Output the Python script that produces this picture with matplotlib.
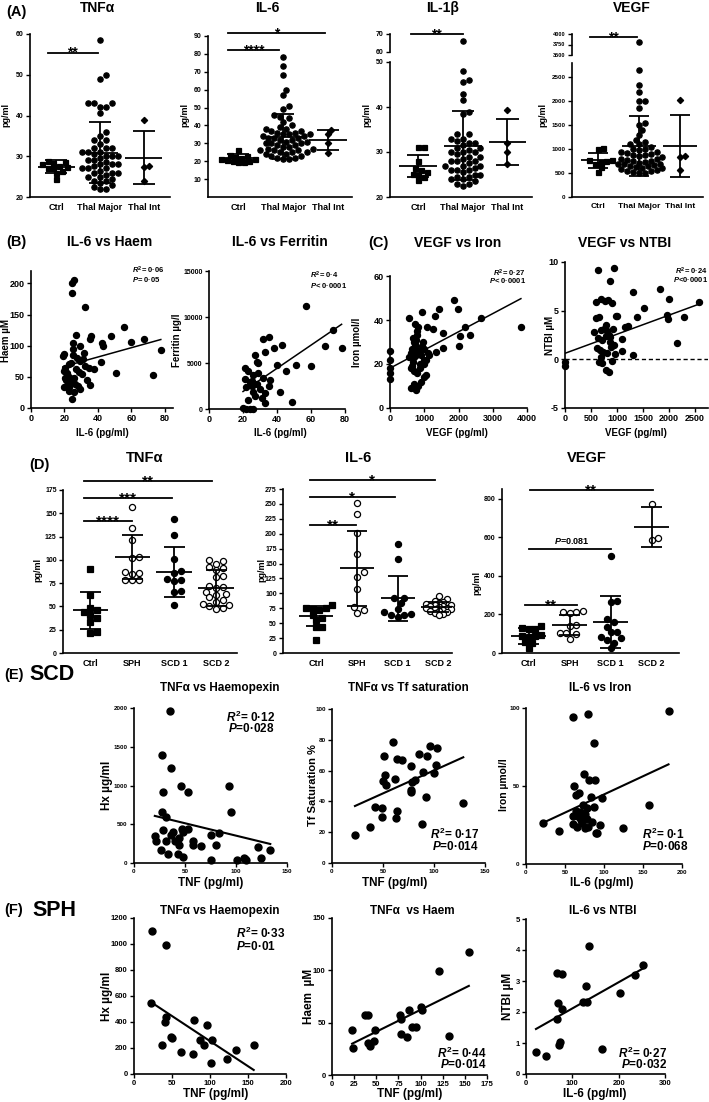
import numpy as np
import matplotlib
matplotlib.use('Agg')
import matplotlib.pyplot as plt

plt.rcParams['font.family'] = ['Liberation Sans', 'DejaVu Sans']
plt.rcParams['font.weight'] = 'bold'
plt.rcParams['axes.unicode_minus'] = False
plt.rcParams['mathtext.fontset'] = 'custom'
plt.rcParams['mathtext.rm'] = 'Liberation Sans:bold'
plt.rcParams['mathtext.it'] = 'Liberation Sans:italic:bold'
plt.rcParams['mathtext.bf'] = 'Liberation Sans:bold'

# ---------------- (A) thalassaemia groups, pg/ml ----------------
GROUPS_A = ['Ctrl', 'Thal Major', 'Thal Int']
TNF_CTRL = [28.8, 28.6, 28.3, 28.0, 27.7, 27.4, 27.2, 27.0, 26.5, 25.8, 24.4]
TNF_MAJOR = [58.5, 50, 49, 43, 43, 43, 42, 42, 40.5, 36, 35, 34, 34, 33, 32, 32, 32, 31, 31, 31,
             30.5, 30, 30, 30, 29.5, 29, 29, 28.5, 28, 28, 28, 27.5, 27, 27, 27, 26.5, 26, 26, 26,
             25.5, 25, 25, 24.5, 24, 24, 23.5, 23, 22.5, 22, 22]
TNF_INT = [39, 27.6, 27.4, 24]
TNF_MEAN = [27.4, 30.9, 29.6]
TNF_SD = [1.6, 7.5, 6.5]

IL6_CTRL = [26, 23.5, 23, 22.5, 22, 21.5, 21, 20.5, 20, 20, 19.5, 19.5]
IL6_MAJOR = [78, 73, 68, 60, 57, 51, 49, 46, 45, 44, 42, 40, 39, 38, 38, 37, 37, 36, 36, 35, 35,
             35, 34, 34, 33, 33, 33, 32, 32, 31, 31, 30, 30, 30, 29, 29, 28, 28, 27, 27, 26, 26,
             26, 25, 25, 25, 24, 24, 23, 23, 22, 22, 21, 21]
IL6_INT = [37.5, 35, 30, 24.5]
IL6_MEAN = [21.6, 33.7, 31.7]
IL6_SD = [2.2, 12.5, 5.5]

IL1B_CTRL = [31.2, 31.2, 28, 26.5, 26, 25.5, 25.2, 25, 24.5, 23.8]
IL1B_MAJOR = [66, 48, 46, 45.5, 43, 41.5, 39, 38.5, 34, 34, 33, 33, 32.5, 32, 32, 31.5, 31, 31,
              30.5, 30, 30, 30, 29.5, 29, 29, 28.5, 28, 28, 28, 27.5, 27, 27, 27, 26.5, 26, 26,
              26, 25.5, 25, 25, 24.5, 24.5, 24, 24, 23.5, 23, 23, 22.5]
IL1B_INT = [39.4, 32.1, 29.9, 27.4]
IL1B_MEAN = [26.9, 31.4, 32.2]
IL1B_SD = [2.4, 7.7, 5.1]

VEGF_CTRL = [1030, 1000, 780, 770, 760, 740, 700, 620, 520]
VEGF_MAJOR = [3800, 2650, 2350, 2200, 2000, 2000, 1850, 1550, 1500, 1400, 1300, 1200, 1150, 1100,
              1100, 1050, 1000, 1000, 980, 950, 950, 920, 900, 880, 870, 850, 830, 800, 800, 780,
              760, 750, 740, 720, 700, 700, 680, 660, 650, 640, 620, 600, 600, 580, 560, 550, 540,
              520, 500, 500]
VEGF_INT = [2030, 850, 830, 570]
VEGF_MEAN = [770, 1069, 1065]
VEGF_SD = [155, 620, 645]

# ---------------- (B) IL-6 vs Haem / Ferritin ----------------
HAEM_IL6 = [24.7, 25.5, 24.7, 32.6, 26.7, 25.3, 25.3, 29.3, 31.6, 35.6, 36.0, 19.8, 19.2, 47.8,
            42.6, 43.0, 55.6, 59.6, 67.8, 77.7, 72.8, 51.0, 41.9, 37.6, 32.6, 34.6, 29.5, 20.5,
            19.8, 21.7, 22.5, 24.0, 27.0, 28.5, 23.0, 26.0, 30.5, 33.5, 21.0, 22.0, 24.5, 26.5,
            28.0, 19.8, 24.7, 26.0, 35.6, 29.5, 23.0, 21.5, 27.5, 31.0, 25.0, 22.5, 20.5]
HAEM = [200, 205, 185, 162, 118, 105, 94, 99, 89, 110, 116, 86, 83, 116, 104, 99, 130, 106, 111,
        93, 53, 56, 74, 63, 68, 65, 76, 65, 60, 57, 70, 72, 62, 58, 50, 48, 55, 45, 45, 40, 42,
        38, 35, 34, 15, 26, 37, 30, 28, 52, 80, 78, 85, 33, 48]
HAEM_FIT = (0.746, 52.0)

FERR_IL6 = [57, 73, 68, 78, 60, 51, 45, 43, 38, 40, 33, 32, 35, 27, 29, 28, 21, 23, 26, 32, 36,
            22, 26, 33, 42, 49, 33, 22, 24, 26, 24, 28, 30, 25, 21, 27, 31, 23, 29, 35, 20, 25]
FERRITIN = [11200, 8600, 6800, 6600, 4700, 4800, 4150, 7000, 6600, 4800, 6200, 7600, 7800, 5900,
            5000, 5100, 4450, 4100, 3700, 3350, 3100, 2400, 1900, 1700, 1900, 800, 700, 0, 0, 0,
            2900, 2700, 2200, 2500, 3300, 1400, 1200, 1000, 3900, 2500, 100, 3000]
FERR_FIT = (126.0, -620.0)

# ---------------- (C) VEGF vs Iron / NTBI ----------------
IRON_VEGF = [3822, 1871, 1998, 1442, 1316, 2651, 2193, 2339, 2047, 2018, 1559, 1559, 1345, 1248,
             1092, 926, 565, 700, 740, 780, 820, 600, 650, 720, 760, 800, 850, 900, 950, 1000,
             1050, 1100, 680, 710, 760, 830, 870, 920, 980, 1150, 600, 640, 700, 780, 880, 1000,
             1060, 0, 0, 0, 0, 0, 620, 700, 760, 820, 900, 990, 560, 660, 740]
IRON = [36.8, 48.9, 44.8, 45.1, 41.7, 41.1, 36.8, 33.1, 32.8, 28.3, 34.1, 27.1, 25.6, 35.7, 36.8,
        43.6, 41.1, 30, 28, 33, 37, 25, 27, 29, 31, 35, 26, 24, 30, 27, 22, 25, 21, 23, 24, 26,
        20, 28, 22, 24, 18, 19, 17, 16, 18, 20, 15, 26, 22, 18, 16, 13, 9, 11, 8, 10, 12, 14,
        23, 32, 38]
IRON_FIT = (0.00827, 18.1)

NTBI_VEGF = [641, 949, 865, 600, 700, 760, 820, 900, 980, 1301, 1827, 2006, 1519, 1391, 1968,
             1987, 2294, 2583, 2147, 1301, 1090, 1205, 1000, 600, 650, 700, 760, 800, 850, 920,
             560, 640, 720, 780, 860, 940, 620, 680, 740, 800, 880, 960, 660, 720, 780, 840, 900,
             700, 780, 860, 0, 0, 1100, 1150]
NTBI = [9.2, 9.4, 8.0, 5.9, 6.2, 6.0, 6.1, 5.8, 4.5, 6.9, 7.2, 6.2, 5.3, 4.4, 4.6, 4.1, 4.4, 5.9,
        1.7, 0.4, 0.9, 3.4, 4.5, 4.2, 4.3, 3.0, 3.2, 2.9, 2.5, 3.1, 2.8, 2.2, 2.0, 2.4, 1.8, 1.5,
        1.2, 1.0, 0.8, 0.6, 1.3, 0.5, -0.3, -0.4, -1.1, -1.3, -0.2, 0.2, 3.5, 2.3, -0.3, -0.7,
        2.1, 3.3]
NTBI_FIT = (0.00196, 0.62)

# ---------------- (D) SPH / SCD groups ----------------
GROUPS_D = ['Ctrl', 'SPH', 'SCD 1', 'SCD 2']
D_TNF_CTRL = [90.4, 62.6, 48.3, 46, 44, 41.2, 38, 33.3, 23, 22]
D_TNF_SPH = [156.5, 134, 121.5, 103, 102, 87, 86, 85, 78, 78, 78]
D_TNF_SCD1 = [144, 127, 101, 88, 86, 79, 78, 77, 67, 66, 52]
D_TNF_SCD2 = [100, 99, 96, 92, 91, 89, 83, 82, 72, 71, 70, 66, 63, 62, 60, 57, 55, 53, 51, 50,
              48, 47]
D_TNF_MEAN = [45.8, 103, 86.8, 69.7]
D_TNF_SD = [20, 24, 26.5, 19]

D_IL6_CTRL = [80, 76, 75, 74, 72, 64, 58, 55, 44, 44, 22]
D_IL6_SPH = [251, 233, 202, 166, 136, 128, 108, 77, 72, 67]
D_IL6_SCD1 = [182, 157, 93, 92, 84, 74, 68, 65, 64, 63, 61]
D_IL6_SCD2 = [96, 90, 88, 86, 84, 82, 81, 80, 79, 78, 77, 76, 75, 74, 73, 72, 71, 70, 69, 67,
              65, 63]
D_IL6_MEAN = [62.3, 142, 91.5, 77.5]
D_IL6_SD = [17, 63, 38, 8]

D_VEGF_CTRL = [138, 128, 125, 122, 95, 90, 88, 85, 55, 52, 26]
D_VEGF_SPH = [220, 215, 212, 208, 145, 140, 105, 103, 100, 75]
D_VEGF_SCD1 = [503, 268, 265, 175, 160, 135, 110, 108, 83, 78, 66, 54, 26]
D_VEGF_SCD2 = [770, 598, 585]
D_VEGF_MEAN = [88, 147, 160, 652]
D_VEGF_SD = [40, 52, 133, 105]

# ---------------- (E) SCD correlations ----------------
E_HX_TNF = [35.2, 27, 35.8, 45.7, 53.1, 28, 93.5, 94.9, 27, 30.9, 28, 20.4, 21.4, 26, 32.9, 30.9,
            38.4, 44.3, 44.3, 46.7, 47.6, 53.1, 43.3, 48.2, 57.5, 57.5, 65.6, 75.2, 75.5, 83.7,
            80.4, 101.4, 108, 110, 109, 121.5, 124.4, 133.6, 36, 40]
E_HX = [1962, 1392, 1221, 994, 913, 913, 998, 664, 664, 591, 420, 343, 278, 171, 116, 283, 406,
        321, 230, 437, 406, 437, 120, 77, 278, 230, 213, 364, 42, 386, 235, 42, 60, 35, 50, 201,
        64, 162, 360, 290]
E_HX_FIT = (-3.2, 673.0)

E_TF_TNF = [22.5, 37.3, 42.3, 48.9, 49.5, 63.8, 62.8, 88.5, 59.8, 51.2, 63.8, 68.7, 85.1, 92.8,
            95.7, 102.7, 101.7, 100, 77.6, 89.5, 52.2, 49.9, 53.2, 61.4, 78.6, 80.9, 77.9, 77.6,
            92.1, 128.7]
E_TF = [18.3, 23.2, 36.5, 35.5, 29.7, 33.7, 29.4, 25.4, 78.5, 69.2, 67.7, 67.1, 71, 69.2, 75.7,
        74.8, 63.4, 58.7, 63, 59.1, 57.4, 53.3, 50.5, 54.8, 52.6, 54.2, 47.7, 46.2, 42.6, 39.1]
E_TF_FIT = (0.298, 30.3)

E_FE_IL6 = [60, 80, 182.7, 87.3, 74.5, 80.5, 88.6, 61.6, 68.4, 64.2, 83, 97.2, 73.6, 78.7, 87.7,
            69.3, 64.2, 60, 68, 76, 22.2, 42.7, 60, 66, 70, 72, 75, 80, 85, 90, 157.5, 124.1,
            90.8, 78, 95]
E_FE = [94.2, 96.3, 97.8, 77.8, 58, 53.7, 53.7, 49.9, 45.8, 44.1, 43, 42, 37.7, 35.6, 36.6, 33.4,
        34.1, 31, 30, 32, 26.4, 21.3, 25.5, 24, 28, 26, 23, 24, 27, 20, 37.7, 22.8, 20, 29, 25]
E_FE_FIT = (0.233, 21.3)

# ---------------- (F) SPH correlations ----------------
F_HX_TNF = [23.7, 41.7, 22.9, 41.7, 40.4, 36.8, 48.3, 49.5, 62.4, 78.6, 96.1, 86.4, 91.7, 77.6,
            102.2, 101.8, 122.4, 134.7, 157.5]
F_HX = [1097, 995, 546, 438, 397, 225, 282, 280, 166, 412, 379, 264, 225, 156, 258, 85, 115, 187,
        225]
F_HX_FIT = (-3.86, 639.0)

F_HAEM_TNF = [22.7, 23.9, 154.5, 120.5, 37.2, 40.9, 76.9, 77.7, 86.4, 100.8, 101.6, 48.5, 40.9,
              42.8, 47.4, 77.7, 85.2, 90.2, 94.8, 132.6]
F_HAEM = [43, 25.6, 117.6, 99, 56.9, 56.9, 57.5, 53.4, 62.3, 64.9, 62.3, 43.1, 31, 27.8, 32.6,
          39.3, 36.1, 45.7, 46.3, 37.4]
F_HAEM_FIT = (0.419, 20.4)

F_NTBI_IL6 = [21.5, 43, 67.3, 76.8, 136.1, 129, 69.5, 76.8, 66, 71.6, 73.1, 123.2, 131.8, 165,
              203.7, 234.4, 252.3]
F_NTBI = [0.70, 0.57, 3.26, 3.23, 4.12, 2.83, 2.29, 2.10, 1.77, 0.95, 1.02, 2.31, 2.31, 0.81,
          2.61, 3.18, 3.53]
F_NTBI_FIT = (0.00845, 1.27)


W, H = 709, 1102
fig = plt.figure(figsize=(W / 100, H / 100), dpi=100)


def box(l, t, r, b):
    # axes from pixel edges (origin top-left)
    return fig.add_axes([l / W, 1 - b / H, (r - l) / W, (b - t) / H])


def put(x, y, s, size, **kw):
    kw.setdefault('ha', 'center')
    kw.setdefault('va', 'center')
    fig.text(x / W, 1 - y / H, s, fontsize=size, **kw)


def frame(ax, size):
    ax.spines[['top', 'right']].set_visible(False)
    ax.spines[['left', 'bottom']].set_linewidth(1.2)
    ax.tick_params(width=1.0, length=3, labelsize=size, pad=1.5)
    ax.patch.set_visible(False)


def spread(ax, pos, vals, ms, tight=1.0):
    # simple beeswarm in pixel space so the dots do not overlap (much)
    tr = ax.transData
    unit = tr.transform((1, 0))[0] - tr.transform((0, 0))[0]
    d = (ms * 100 / 72 + 0.6) * tight
    ys = [tr.transform((0, v))[1] for v in vals]
    steps = [0.0]
    for k in range(1, 60):
        steps += [k * d / 2, -k * d / 2]
    done = []
    xs = [0.0] * len(vals)
    for i in np.argsort(ys, kind='stable'):
        for off in steps:
            if all((off - px) ** 2 + (ys[i] - py) ** 2 >= 0.85 * d * d for px, py in done):
                break
        done.append((off, ys[i]))
        xs[i] = pos + off / unit
    return xs


def dots(axs, pos, vals, marker, ms, face='k', tight=1.0):
    for ax in axs:
        lo, hi = ax.get_ylim()
        sub = [v for v in vals if lo <= v <= hi]
        if sub:
            ax.plot(spread(ax, pos, sub, ms, tight), sub, ls='none', marker=marker, ms=ms,
                    mfc=face, mec='k', mew=0.9, clip_on=False, zorder=3)


def mean_sd(ax, pos, m, s, half=0.42, cap=0.25):
    kw = dict(color='k', lw=1.3, zorder=4, solid_capstyle='butt')
    ax.plot([pos - half, pos + half], [m, m], **kw)
    ax.plot([pos, pos], [m - s, m + s], **kw)
    ax.plot([pos - cap, pos + cap], [m + s, m + s], **kw)
    ax.plot([pos - cap, pos + cap], [m - s, m - s], **kw)


def sig(ax, x1, x2, y, txt, size):
    ax.plot([x1, x2], [y, y], color='k', lw=1.3, clip_on=False)
    ax.annotate(txt, ((x1 + x2) / 2, y), xytext=(0, -size * 0.3), textcoords='offset points',
                ha='center', va='baseline', fontsize=size, annotation_clip=False)


def categories(ax, names, size):
    ax.set_xticks(range(len(names)), names)
    ax.tick_params(axis='x', length=0, pad=4, labelsize=size)


def scatter(ax, x, y, fit, ms, lw):
    ax.plot(x, y, 'o', color='k', ms=ms, clip_on=False, zorder=3)
    xl = np.array([min(x), max(x)])
    ax.plot(xl, fit[0] * xl + fit[1], color='k', lw=lw, zorder=2)


def upper(ax, size):
    ax.spines[['top', 'right', 'bottom']].set_visible(False)
    ax.spines['left'].set_linewidth(1.2)
    ax.set_xticks([])
    ax.tick_params(width=1.0, length=3, labelsize=size, pad=1.5)
    ax.patch.set_visible(False)


# ================= row A =================
put(16, 12, '(A)', 10.5)
MK_A = ['s', 'o', 'D']
MS_A = [3.6, 3.8, 3.2]

ax = box(30, 34, 170, 197)
ax.set_xlim(-0.6, 2.6)
ax.set_ylim(20, 60)
ax.set_yticks([20, 30, 40, 50, 60])
frame(ax, 5)
categories(ax, GROUPS_A, 6.5)
for k, vals in enumerate([TNF_CTRL, TNF_MAJOR, TNF_INT]):
    dots([ax], k, vals, MK_A[k], MS_A[k])
    mean_sd(ax, k, TNF_MEAN[k], TNF_SD[k])
sig(ax, -0.2, 0.95, 55.4, '**', 10)
put(97, 8, 'TNFα', 10)
put(6, 115, 'pg/ml', 6.5, rotation=90)

ax = box(208, 36, 352, 197)
ax.set_xlim(-0.67, 2.53)
ax.set_ylim(0, 90)
ax.set_yticks(range(10, 100, 10))
frame(ax, 5)
categories(ax, GROUPS_A, 6.5)
for k, vals in enumerate([IL6_CTRL, IL6_MAJOR, IL6_INT]):
    dots([ax], k, vals, MK_A[k], MS_A[k])
    mean_sd(ax, k, IL6_MEAN[k], IL6_SD[k])
sig(ax, -0.22, 1.93, 91.5, '*', 10)
sig(ax, -0.22, 0.91, 82, '****', 10)
put(267, 8, 'IL-6', 10)
put(185, 115, 'pg/ml', 6.5, rotation=90)

lo = box(390, 62, 532, 197)
hi = box(390, 34, 532, 52)
lo.set_xlim(-0.63, 2.55)
hi.set_xlim(-0.63, 2.55)
lo.set_ylim(20, 50)
hi.set_ylim(60, 70)
lo.set_yticks([20, 30, 40, 50])
hi.set_yticks([60, 70])
frame(lo, 5)
upper(hi, 5)
categories(lo, GROUPS_A, 6.5)
for k, vals in enumerate([IL1B_CTRL, IL1B_MAJOR, IL1B_INT]):
    dots([lo, hi], k, vals, MK_A[k], MS_A[k])
    mean_sd(lo, k, IL1B_MEAN[k], IL1B_SD[k])
sig(hi, -0.16, 1.0, 70, '**', 10)
put(443, 8, 'IL-1β', 10)
put(367, 115, 'pg/ml', 6.5, rotation=90)

lo = box(572, 63, 703, 197)
hi = box(572, 34, 703, 55)
lo.set_xlim(-0.63, 2.56)
hi.set_xlim(-0.63, 2.56)
lo.set_ylim(0, 2800)
hi.set_ylim(3500, 4000)
lo.set_yticks(range(0, 3000, 500))
hi.set_yticks([3500, 3750, 4000])
frame(lo, 4.5)
upper(hi, 4)
categories(lo, GROUPS_A, 6)
for k, vals in enumerate([VEGF_CTRL, VEGF_MAJOR, VEGF_INT]):
    dots([lo, hi], k, vals, MK_A[k], MS_A[k])
    mean_sd(lo, k, VEGF_MEAN[k], VEGF_SD[k])
sig(hi, -0.2, 0.95, 3930, '**', 10)
put(632, 8, 'VEGF', 10)
put(543, 115, 'pg/ml', 6.5, rotation=90)

# ================= rows B and C =================
put(16, 242, '(B)', 10.5)
put(110, 242, 'IL-6 vs Haem', 10)
put(280, 242, 'IL-6 vs Ferritin', 10)
put(378, 243, '(C)', 10.5)
put(458, 243, 'VEGF vs Iron', 10)
put(625, 243, 'VEGF vs NTBI', 10)

ax = box(31, 271, 173, 408)
ax.set_xlim(0, 85)
ax.set_ylim(0, 220)
ax.set_xticks([0, 20, 40, 60, 80])
ax.set_yticks([0, 50, 100, 150, 200])
frame(ax, 6.5)
scatter(ax, HAEM_IL6, HAEM, HAEM_FIT, 4.3, 1.1)
put(6, 340, 'Haem µM', 7, rotation=90)
put(102, 433, 'IL-6 (pg/ml)', 7)
put(132, 270, r'$R^2$= 0·06', 5.5, ha='left')
put(132, 280, r'$P$= 0·05', 5.5, ha='left')

ax = box(209, 271, 345, 409)
ax.set_xlim(0, 80)
ax.set_ylim(0, 15000)
ax.set_xticks([0, 20, 40, 60, 80])
ax.set_yticks([0, 5000, 10000, 15000])
frame(ax, 6.5)
ax.tick_params(axis='y', labelsize=5)
scatter(ax, FERR_IL6, FERRITIN, FERR_FIT, 4.3, 1.1)
put(177, 340, 'Ferritin µg/l', 7, rotation=90)
put(280, 433, 'IL-6 (pg/ml)', 7)
put(310, 275, r'$R^2$= 0·4', 5.5, ha='left')
put(310, 286, r'$P$< 0·0001', 5.5, ha='left')

ax = box(390, 276, 527, 408)
ax.set_xlim(0, 4000)
ax.set_ylim(0, 60)
ax.set_xticks(range(0, 4001, 1000))
ax.set_yticks([0, 20, 40, 60])
frame(ax, 6.5)
scatter(ax, IRON_VEGF, IRON, IRON_FIT, 4.3, 1.1)
put(357, 342, 'Iron µmol/l', 7, rotation=90)
put(457, 433, 'VEGF (pg/ml)', 7)
put(526, 273, r'$R^2$= 0·27', 5.5, ha='right')
put(526, 281, r'$P$< 0·0001', 5.5, ha='right')

ax = box(565, 262, 708, 408)
ax.set_xlim(0, 2750)
ax.set_ylim(-5, 10)
ax.set_xticks(range(0, 2501, 500))
ax.set_yticks([-5, 0, 5, 10])
frame(ax, 6.5)
ax.axhline(0, color='k', lw=1.0, ls=(0, (3, 2)))
scatter(ax, NTBI_VEGF, NTBI, NTBI_FIT, 4.3, 1.1)
put(550, 335, 'NTBI µM', 7, rotation=90)
put(636, 433, 'VEGF (pg/ml)', 7)
put(708, 271, r'$R^2$= 0·24', 5.5, ha='right')
put(708, 280, r'$P$<0·0001', 5.5, ha='right')

# ================= row D =================
put(39, 465, '(D)', 10.5)
MK_D = ['s', 'o', 'o', 'o']
FACE_D = ['k', 'w', 'k', 'w']
MS_D = [4.2, 4.4, 4.4, 4.4]

ax = box(63, 490, 237, 653)
ax.set_xlim(-0.65, 3.5)
ax.set_ylim(0, 175)
ax.set_yticks(range(0, 176, 25))
frame(ax, 5)
categories(ax, GROUPS_D, 6.5)
for k, vals in enumerate([D_TNF_CTRL, D_TNF_SPH, D_TNF_SCD1, D_TNF_SCD2]):
    dots([ax], k, vals, MK_D[k], MS_D[k], FACE_D[k])
    mean_sd(ax, k, D_TNF_MEAN[k], D_TNF_SD[k])
sig(ax, -0.15, 1.0, 142, '****', 11)
sig(ax, -0.15, 1.95, 166.5, '***', 11)
sig(ax, -0.15, 2.9, 185, '**', 11)
put(145, 458, 'TNFα', 10.5)
put(38, 570, 'pg/ml', 6.5, rotation=90)

ax = box(283, 489, 452, 653)
ax.set_xlim(-0.81, 3.33)
ax.set_ylim(0, 275)
ax.set_yticks(range(0, 276, 25))
frame(ax, 5)
categories(ax, GROUPS_D, 6.5)
for k, vals in enumerate([D_IL6_CTRL, D_IL6_SPH, D_IL6_SCD1, D_IL6_SCD2]):
    dots([ax], k, vals, MK_D[k], MS_D[k], FACE_D[k], tight=0.6 if k == 3 else 1.0)
    mean_sd(ax, k, D_IL6_MEAN[k], D_IL6_SD[k])
sig(ax, -0.16, 0.98, 215, '**', 11)
sig(ax, -0.16, 1.94, 261.6, '*', 11)
sig(ax, -0.16, 2.92, 289.6, '*', 11)
put(358, 458, 'IL-6', 10.5)
put(262, 570, 'pg/ml', 6.5, rotation=90)

ax = box(502, 489, 679, 653)
ax.set_xlim(-0.65, 3.67)
ax.set_ylim(0, 850)
ax.set_yticks([0, 200, 400, 600, 800])
frame(ax, 5)
categories(ax, GROUPS_D, 6.5)
for k, vals in enumerate([D_VEGF_CTRL, D_VEGF_SPH, D_VEGF_SCD1, D_VEGF_SCD2]):
    dots([ax], k, vals, MK_D[k], MS_D[k], FACE_D[k])
    mean_sd(ax, k, D_VEGF_MEAN[k], D_VEGF_SD[k])
sig(ax, -0.09, 1.17, 247, '**', 11)
sig(ax, 0.03, 3.03, 846, '**', 11)
ax.plot([0.01, 2.0], [541, 541], color='k', lw=1.3)
ax.annotate(r'$P$=0.081', (1.05, 541), xytext=(0, 2), textcoords='offset points',
            ha='center', va='bottom', fontsize=6.5)
put(587, 458, 'VEGF', 10.5)
put(477, 583, 'pg/ml', 6.5, rotation=90)

# ================= row E (SCD) =================
put(14, 675, '(E)', 10.5)
put(52, 675, 'SCD', 15.5)
put(220, 688, 'TNFα vs Haemopexin', 8.5)
put(408, 688, 'TNFα vs Tf saturation', 8.5)
put(600, 688, 'IL-6 vs Iron', 8.5)

ax = box(134, 708, 287, 863)
ax.set_xlim(0, 150)
ax.set_ylim(0, 2000)
ax.set_xticks([0, 50, 100, 150])
ax.set_yticks(range(0, 2001, 500))
frame(ax, 4.5)
scatter(ax, E_HX_TNF, E_HX, E_HX_FIT, 5, 1.5)
put(107, 785, 'Hx µg/ml', 8.5, rotation=90)
put(211, 883, 'TNF (pg/ml)', 8.5)
put(251, 717, r'$R^2$= 0·12', 8.5)
put(251, 729, r'$P$=0·028', 8.5)

ax = box(332, 709, 485, 863)
ax.set_xlim(0, 150)
ax.set_ylim(0, 100)
ax.set_xticks([0, 50, 100, 150])
ax.set_yticks(range(0, 101, 20))
frame(ax, 4.5)
scatter(ax, E_TF_TNF, E_TF, E_TF_FIT, 5, 1.5)
put(313, 785, 'Tf Saturation %', 8, rotation=90)
put(395, 883, 'TNF (pg/ml)', 8.5)
put(455, 834, r'$R^2$= 0·17', 8.5)
put(455, 847, r'$P$=0·014', 8.5)

ax = box(526, 708, 682, 864)
ax.set_xlim(0, 200)
ax.set_ylim(0, 100)
ax.set_xticks([0, 50, 100, 150, 200])
ax.set_yticks([0, 50, 100])
frame(ax, 4.5)
scatter(ax, E_FE_IL6, E_FE, E_FE_FIT, 5, 1.5)
put(504, 785, 'Iron µmol/l', 7.5, rotation=90)
put(602, 883, 'IL-6 (pg/ml)', 8.5)
put(642, 834, r'$R^2$= 0·1', 8.5, ha='left')
put(642, 847, r'$P$=0·068', 8.5, ha='left')

# ================= row F (SPH) =================
put(14, 910, '(F)', 10.5)
put(54, 910, 'SPH', 15.5)
put(220, 911, 'TNFα vs Haemopexin', 8.5)
put(412, 911, 'TNFα  vs Haem', 8.5)
put(603, 911, 'IL-6 vs NTBI', 8.5)

ax = box(134, 918, 286, 1074)
ax.set_xlim(0, 200)
ax.set_ylim(0, 1200)
ax.set_xticks([0, 50, 100, 150, 200])
ax.set_yticks(range(0, 1201, 200))
frame(ax, 5.5)
scatter(ax, F_HX_TNF, F_HX, F_HX_FIT, 5, 1.5)
put(107, 996, 'Hx µg/ml', 8.5, rotation=90)
put(216, 1094, 'TNF (pg/ml)', 8.5)
put(236, 933, r'$R^2$= 0·33', 8.5, ha='left')
put(236, 947, r'$P$=0·01', 8.5, ha='left')

ax = box(332, 918, 487, 1075)
ax.set_xlim(0, 175)
ax.set_ylim(0, 150)
ax.set_xticks(range(0, 176, 25))
ax.set_yticks([0, 50, 100, 150])
frame(ax, 5.5)
scatter(ax, F_HAEM_TNF, F_HAEM, F_HAEM_FIT, 5, 1.5)
put(309, 996, 'Haem  µM', 8.5, rotation=90)
put(410, 1094, 'TNF (pg/ml)', 8.5)
put(487, 1053, r'$R^2$= 0·44', 8.5, ha='right')
put(487, 1065, r'$P$=0·014', 8.5, ha='right')

ax = box(526, 919, 665, 1074)
ax.set_xlim(0, 300)
ax.set_ylim(0, 5)
ax.set_xticks([0, 100, 200, 300])
ax.set_yticks(range(0, 6))
frame(ax, 5.5)
scatter(ax, F_NTBI_IL6, F_NTBI, F_NTBI_FIT, 5, 1.5)
put(508, 996, 'NTBI µM', 8.5, rotation=90)
put(595, 1094, 'IL-6 (pg/ml)', 8.5)
put(667, 1053, r'$R^2$= 0·27', 8.5, ha='right')
put(667, 1065, r'$P$=0·032', 8.5, ha='right')

fig.savefig('out.png', dpi=100, facecolor='white')
